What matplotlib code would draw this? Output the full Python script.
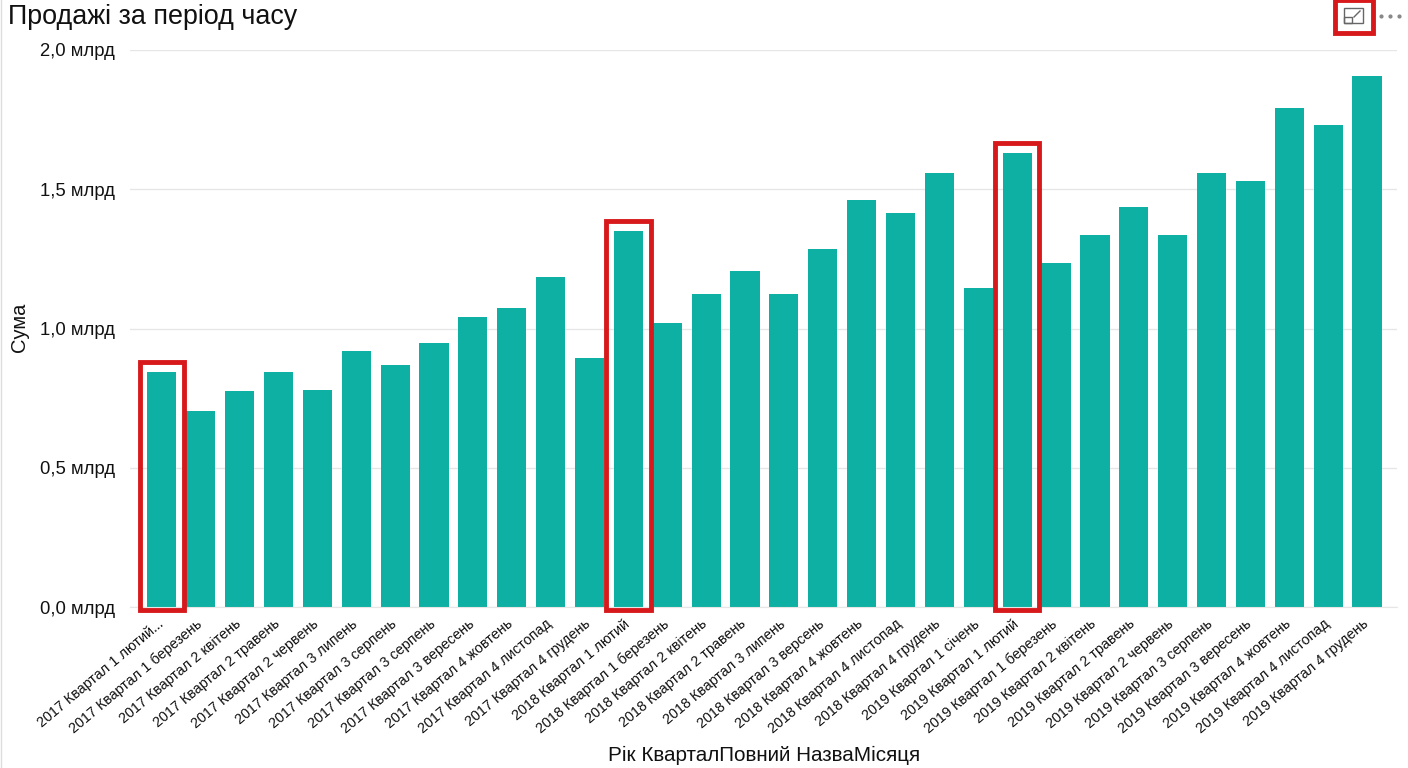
"""
Sales over time bar chart.
"""

import matplotlib
matplotlib.use('Agg')
import matplotlib.pyplot as plt
from matplotlib.patches import Rectangle
from matplotlib.transforms import ScaledTranslation

W, H = 1408, 768

labels = [
    '2017 Квартал 1 лютий...', '2017 Квартал 1 березень', '2017 Квартал 2 квітень',
    '2017 Квартал 2 травень', '2017 Квартал 2 червень', '2017 Квартал 3 липень',
    '2017 Квартал 3 серпень', '2017 Квартал 3 серпень', '2017 Квартал 3 вересень',
    '2017 Квартал 4 жовтень', '2017 Квартал 4 листопад', '2017 Квартал 4 грудень',
    '2018 Квартал 1 лютий', '2018 Квартал 1 березень', '2018 Квартал 2 квітень',
    '2018 Квартал 2 травень', '2018 Квартал 3 липень', '2018 Квартал 3 версень',
    '2018 Квартал 4 жовтень', '2018 Квартал 4 листопад', '2018 Квартал 4 грудень',
    '2019 Квартал 1 січень', '2019 Квартал 1 лютий', '2019 Квартал 1 березень',
    '2019 Квартал 2 квітень', '2019 Квартал 2 травень', '2019 Квартал 2 червень',
    '2019 Квартал 3 серпень', '2019 Квартал 3 вересень', '2019 Квартал 4 жовтень',
    '2019 Квартал 4 листопад', '2019 Квартал 4 грудень',
]
values = [
    0.844, 0.704, 0.776, 0.844, 0.779, 0.919, 0.869, 0.948,
    1.041, 1.074, 1.185, 0.894, 1.350, 1.020, 1.124, 1.206,
    1.124, 1.285, 1.461, 1.415, 1.558, 1.145, 1.630, 1.235,
    1.336, 1.436, 1.336, 1.558, 1.530, 1.792, 1.731, 1.907,
]
y_ticks = [0.0, 0.5, 1.0, 1.5, 2.0]
y_tick_labels = ['0,0 млрд', '0,5 млрд', '1,0 млрд', '1,5 млрд', '2,0 млрд']
highlighted = [0, 12, 22]

plt.rcParams['font.family'] = ['Liberation Sans', 'DejaVu Sans']

fig = plt.figure(figsize=(W / 100, H / 100), dpi=100)
ax = fig.add_axes([130 / W, 1 - 607 / H, (1397 - 130) / W, 557 / H])

ax.bar(range(len(values)), values, width=0.75, color='#0DB0A2', zorder=2)
ax.set_xlim(-0.82, 31.77)
ax.set_ylim(0, 2.0)

ax.set_yticks(y_ticks)
ax.set_yticklabels(y_tick_labels, fontsize=13.3, color='#111111')
ax.set_xticks(range(len(labels)))
ax.set_xticklabels(labels, rotation=40, ha='right', va='top', rotation_mode='anchor',
                   fontsize=10.4, color='#111111')
ax.tick_params(axis='both', length=0)
ax.tick_params(axis='x', pad=7)
ax.tick_params(axis='y', pad=11)
ax.grid(axis='y', color='#E6E6E6', linewidth=1, zorder=0)
for side in ['top', 'right', 'left']:
    ax.spines[side].set_visible(False)
ax.spines['bottom'].set_color('#E6E6E6')

# nudge the slanted labels to the left so they finish under their bars
shift = ScaledTranslation(-5 / 100, 0, fig.dpi_scale_trans)
for tick_label in ax.get_xticklabels():
    tick_label.set_transform(tick_label.get_transform() + shift)

# red frames around the February bars
for i in highlighted:
    ax.add_patch(Rectangle((i - 0.57, -0.012), 1.14, values[i] + 0.049, fill=False,
                           edgecolor='#D7191C', linewidth=3.5, clip_on=False, zorder=3))

fig.text(8 / W, 1 - 17 / H, 'Продажі за період часу', fontsize=19.35, va='center', color='#111111')
fig.text(20 / W, 1 - 327 / H, 'Сума', fontsize=14.5, rotation=90, ha='center', va='center',
         color='#111111')
fig.text(764 / W, 1 - 755 / H, 'Рік КварталПовний НазваМісяця', fontsize=14.9, ha='center',
         va='center', color='#111111')

# focus mode icon and the dots in the top right corner
fig.add_artist(Rectangle((1335 / W, 1 - 33 / H), 38 / W, 33 / H, fill=False,
                         edgecolor='#D7191C', linewidth=3.5, transform=fig.transFigure))
fig.add_artist(Rectangle((1344 / W, 1 - 23 / H), 19 / W, 15 / H, fill=False,
                         edgecolor='#666666', linewidth=1, transform=fig.transFigure))
fig.add_artist(Rectangle((1344 / W, 1 - 23 / H), 8 / W, 6 / H, fill=False,
                         edgecolor='#666666', linewidth=1, transform=fig.transFigure))
fig.add_artist(plt.Line2D([1354 / W, 1360 / W], [1 - 17 / H, 1 - 11 / H], color='#666666',
                          linewidth=1, transform=fig.transFigure))
fig.add_artist(plt.Line2D([1381 / W, 1390 / W, 1399 / W], [1 - 16 / H] * 3, color='#888888',
                          linestyle='none', marker='o', markersize=2, transform=fig.transFigure))
fig.add_artist(plt.Line2D([0.5 / W, 0.5 / W], [0, 1], color='#DDDDDD', linewidth=1,
                          transform=fig.transFigure))

fig.savefig('out.png', dpi=100)
